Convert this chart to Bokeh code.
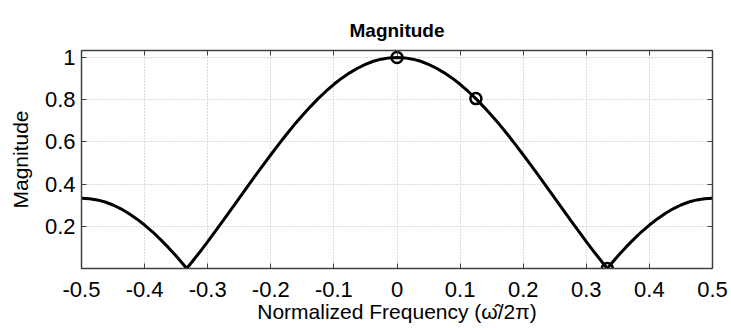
from bokeh.plotting import figure
from bokeh.models import Range1d, LinearAxis, FixedTicker, Title
from bokeh.embed import file_html
from bokeh.resources import INLINE

freq = [-0.5, -0.4875, -0.475, -0.4625, -0.45, -0.4375, -0.425, -0.4125, -0.4, -0.3875,
        -0.375, -0.3625, -0.35, -0.3375, -0.3333, -0.325, -0.3125, -0.3, -0.2875, -0.275,
        -0.2625, -0.25, -0.2375, -0.225, -0.2125, -0.2, -0.1875, -0.175, -0.1625, -0.15,
        -0.1375, -0.125, -0.1125, -0.1, -0.0875, -0.075, -0.0625, -0.05, -0.0375, -0.025,
        -0.0125, 0.0, 0.0125, 0.025, 0.0375, 0.05, 0.0625, 0.075, 0.0875, 0.1,
        0.1125, 0.125, 0.1375, 0.15, 0.1625, 0.175, 0.1875, 0.2, 0.2125, 0.225,
        0.2375, 0.25, 0.2625, 0.275, 0.2875, 0.3, 0.3125, 0.325, 0.3333, 0.3375,
        0.35, 0.3625, 0.375, 0.3875, 0.4, 0.4125, 0.425, 0.4375, 0.45, 0.4625,
        0.475, 0.4875, 0.5]
mag = [0.333, 0.331, 0.325, 0.315, 0.301, 0.283, 0.261, 0.235, 0.206, 0.174,
       0.138, 0.100, 0.059, 0.015, 0.0, 0.031, 0.078, 0.127, 0.178, 0.229,
       0.281, 0.333, 0.386, 0.438, 0.489, 0.539, 0.588, 0.636, 0.682, 0.725,
       0.766, 0.805, 0.840, 0.873, 0.902, 0.927, 0.949, 0.967, 0.982, 0.992,
       0.998, 1.0, 0.998, 0.992, 0.982, 0.967, 0.949, 0.927, 0.902, 0.873,
       0.840, 0.805, 0.766, 0.725, 0.682, 0.636, 0.588, 0.539, 0.489, 0.438,
       0.386, 0.333, 0.281, 0.229, 0.178, 0.127, 0.078, 0.031, 0.0, 0.015,
       0.059, 0.100, 0.138, 0.174, 0.206, 0.235, 0.261, 0.283, 0.301, 0.315,
       0.325, 0.331, 0.333]
mark_f = [0.0, 0.125, 0.3333]
mark_m = [1.0, 0.805, 0.0]
xticks = [-0.5, -0.4, -0.3, -0.2, -0.1, 0, 0.1, 0.2, 0.3, 0.4, 0.5]
yticks = [0.2, 0.4, 0.6, 0.8, 1.0]

FONT = "Liberation Sans"
AX = "#404040"

p = figure(width=731, height=328, output_backend="svg", toolbar_location=None,
           x_range=Range1d(-0.5, 0.5), y_range=Range1d(0, 1.033),
           min_border_left=81, min_border_right=19, min_border_top=50, min_border_bottom=60)
p.title = None

xax = p.below[0]
yax = p.left[0]

for ax in (xax, yax):
    ax.major_label_text_font = FONT
    ax.major_label_text_font_size = "22px"
    ax.major_label_text_color = "black"
    ax.axis_label_text_font = FONT
    ax.axis_label_text_font_size = "21px"
    ax.axis_label_text_font_style = "normal"
    ax.axis_label_text_color = "black"
    ax.major_tick_in = 5
    ax.major_tick_out = 0
    ax.minor_tick_line_color = None
    ax.axis_line_color = AX
    ax.major_tick_line_color = AX
    ax.axis_line_width = 1.5

xax.ticker = FixedTicker(ticks=xticks)
yax.ticker = FixedTicker(ticks=yticks)
xax.major_label_overrides = {v: ("0" if v == 0 else f"{v:g}") for v in xticks}
yax.major_label_overrides = {1.0: "1"}
xax.axis_label = "Normalized Frequency (\u03c9\u0302/2\u03c0)"
yax.axis_label = "Magnitude"
xax.major_label_standoff = 13
yax.major_label_standoff = 6
xax.axis_label_standoff = 0
yax.axis_label_standoff = 10

for loc in ("above", "right"):
    a = LinearAxis(ticker=FixedTicker(ticks=xticks if loc == "above" else yticks),
                   major_label_text_font_size="1px", major_label_text_color=None,
                   major_tick_in=5, major_tick_out=0,
                   minor_tick_line_color=None, axis_line_color=AX,
                   major_tick_line_color=AX, axis_line_width=1.5,
                   major_label_standoff=0)
    p.add_layout(a, loc)

t = Title(text="Magnitude", align="center", text_font=FONT, standoff=20,
          text_font_size="19px", text_font_style="bold", text_color="black")
p.add_layout(t, "above")

p.line(freq, mag, line_color="black", line_width=3)
p.scatter(mark_f, mark_m, marker="circle", size=11, fill_alpha=0, line_color="black", line_width=2.5)

p.grid.grid_line_color = "#b8b8b8"
p.grid.grid_line_dash = "1 2"
p.xgrid.ticker = FixedTicker(ticks=xticks)
p.ygrid.ticker = FixedTicker(ticks=yticks)
p.outline_line_color = AX
p.background_fill_color = "white"
p.border_fill_color = "white"

open("out.html", "w").write(file_html(p, INLINE))
